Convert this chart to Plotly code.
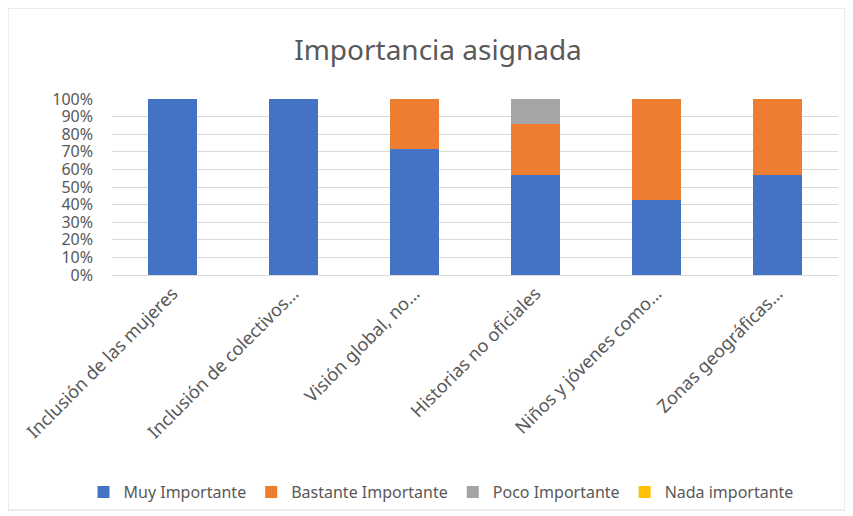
import plotly.graph_objects as go

categories = ["Inclusión de las mujeres", "Inclusión de colectivos…", "Visión global, no…",
              "Historias no oficiales", "Niños y jóvenes como…", "Zonas geográficas…"]
muy = [1.0, 1.0, 0.714, 0.571, 0.429, 0.571]
bastante = [0.0, 0.0, 0.286, 0.286, 0.571, 0.429]
poco = [0.0, 0.0, 0.0, 0.143, 0.0, 0.0]
nada = [0.0, 0.0, 0.0, 0.0, 0.0, 0.0]
series_names = ["Muy Importante", "Bastante Importante", "Poco Importante", "Nada importante"]
colors = ["#4472C4", "#ED7D31", "#A5A5A5", "#FFC000"]
y_ticks = [i / 10 for i in range(11)]

FONT = "Noto Sans"
TXT = "#595959"

fig = go.Figure()
for name, vals, col in zip(series_names, [muy, bastante, poco, nada], colors):
    fig.add_trace(go.Bar(x=categories, y=vals, name=name, marker=dict(color=col, line=dict(width=0))))

OFF = 8  # page body margin
W, H = 853 - OFF, 516 - OFF
# plot area in page pixels: x 112..838, y 99..275
L, R, T, B = 112 - OFF, W - (838 - OFF), 99 - OFF, H - (275 - OFF)
pw, ph = W - L - R, H - T - B

def px_x(x):
    return (x - OFF - L) / pw

def px_y(y):
    return (H - B - (y - OFF)) / ph

fig.update_layout(
    width=W, height=H,
    barmode="stack", bargap=0.6,
    margin=dict(l=L, r=R, t=T, b=B, autoexpand=False),
    paper_bgcolor="white", plot_bgcolor="white",
    font=dict(family=FONT, color=TXT, size=16),
    title=dict(text="Importancia asignada", x=(438 - OFF) / W, xanchor="center",
               y=1 - (50 - OFF) / H, yanchor="middle",
               font=dict(size=28, color=TXT, family=FONT)),
    xaxis=dict(showgrid=False, showline=True, linecolor="#d9d9d9", linewidth=1, ticks="",
               tickangle=-45, automargin=False, tickfont=dict(size=18, color=TXT)),
    yaxis=dict(range=[0, 1], tickvals=y_ticks, tickformat=".0%", showgrid=True, gridcolor="#d9d9d9",
               gridwidth=1, zeroline=False, showline=False, ticks="", ticklabelstandoff=18,
               automargin=False, tickfont=dict(size=16, color=TXT)),
    legend=dict(orientation="h", x=(441 - OFF) / W, xanchor="center", xref="container",
                y=1 - (492 - OFF) / H, yanchor="middle", yref="container",
                font=dict(size=16, color=TXT), traceorder="normal", itemwidth=30),
    shapes=[dict(type="rect", xref="paper", yref="paper", x0=px_x(8), x1=px_x(845),
                 y0=px_y(510), y1=px_y(8), line=dict(color="#d9d9d9", width=1), layer="below")],
)

fig.write_html("out.html")
